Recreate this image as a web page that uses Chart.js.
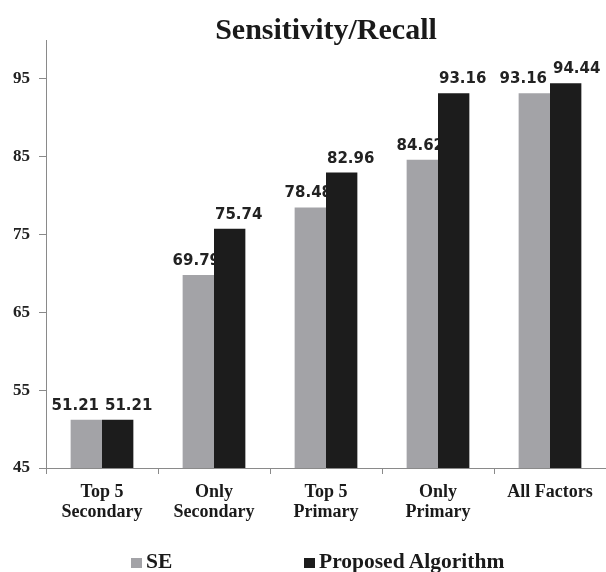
<!DOCTYPE html>
<html>
<head>
<meta charset="utf-8">
<script src="https://cdn.jsdelivr.net/npm/chart.js@4/dist/chart.umd.min.js"></script>
<style>
  body { margin: 0; background: #fff; }
  #wrap { position: relative; width: 606px; height: 572px; }
  #legend {
    position: absolute; left: 0; top: 549px; width: 606px; height: 24px;
    font: bold 21.5px 'Liberation Serif', serif; color: #1a1a1a;
  }
  #legend span.item { position: absolute; top: 0; line-height: 24px; white-space: nowrap; }
  #legend i { display: inline-block; width: 11px; height: 10px; margin-right: 4px; vertical-align: 0px; }
</style>
</head>
<body>
<div id="wrap">
  <canvas id="chart" width="606" height="572"></canvas>
  <div id="legend">
    <span class="item" style="left:131px"><i style="background:#a3a3a7"></i>SE</span>
    <span class="item" style="left:304px"><i style="background:#1c1c1c"></i>Proposed Algorithm</span>
  </div>
</div>
<script>
const categories = [
  ['Top 5', 'Secondary'],
  ['Only', 'Secondary'],
  ['Top 5', 'Primary'],
  ['Only', 'Primary'],
  'All Factors',
];
const seValues = [51.21, 69.79, 78.48, 84.62, 93.16];
const proposedValues = [51.21, 75.74, 82.96, 93.16, 94.44];
const yTicks = [45, 55, 65, 75, 85, 95];

const serif = "'Liberation Serif', 'Times New Roman', serif";

// value labels drawn before the bars so the neighbouring bar can cover them;
// the black-bar label is nudged right, and labels at the same height are pushed apart
const valueLabels = {
  id: 'valueLabels',
  beforeDatasetsDraw(chart) {
    const ctx = chart.ctx;
    ctx.save();
    ctx.font = "bold 15px 'DejaVu Sans', sans-serif";
    ctx.fillStyle = '#222';
    ctx.textAlign = 'center';
    ctx.textBaseline = 'alphabetic';
    const a = chart.getDatasetMeta(0).data;
    const b = chart.getDatasetMeta(1).data;
    a.forEach((barA, j) => {
      const barB = b[j];
      const txtA = seValues[j].toFixed(2);
      const txtB = proposedValues[j].toFixed(2);
      let xA = barA.x - 2;
      let xB = barB.x + 9;
      const w = ctx.measureText(txtA).width;
      if (Math.abs(barA.y - barB.y) < 14) {
        const need = w + 6 - (barB.x - barA.x);
        if (need > 0) {
          xA = barA.x - need / 2;
          xB = barB.x + need / 2;
        }
      }
      ctx.fillText(txtA, xA, barA.y - 10);
      ctx.fillText(txtB, xB, barB.y - 10);
    });
    ctx.restore();
  },
};

new Chart(document.getElementById('chart'), {
  type: 'bar',
  data: {
    labels: categories,
    datasets: [
      {
        label: 'SE',
        data: seValues,
        backgroundColor: '#a3a3a7',
        categoryPercentage: 0.56,
        barPercentage: 1,
      },
      {
        label: 'Proposed Algorithm',
        data: proposedValues,
        backgroundColor: '#1c1c1c',
        categoryPercentage: 0.56,
        barPercentage: 1,
      },
    ],
  },
  options: {
    responsive: false,
    animation: false,
    layout: { padding: 0 },
    scales: {
      x: {
        border: { color: '#8a8a8a', width: 1 },
        grid: { drawOnChartArea: false, tickLength: 6, color: '#8a8a8a', offset: true },
        ticks: {
          padding: 8,
          color: '#1a1a1a',
          maxRotation: 0,
          font: { family: serif, size: 18, weight: 'bold', lineHeight: 1.11 },
        },
        afterFit: (scale) => { scale.height = 104; },
      },
      y: {
        min: 45,
        max: 100,
        border: { color: '#8a8a8a', width: 1 },
        grid: { drawOnChartArea: false, tickLength: 7, color: '#8a8a8a' },
        afterBuildTicks: (scale) => { scale.ticks = yTicks.map((v) => ({ value: v })); },
        ticks: {
          padding: 9,
          color: '#222',
          font: { family: serif, size: 17, weight: 'bold' },
        },
        afterFit: (scale) => { scale.width = 46; },
      },
    },
    plugins: {
      legend: { display: false },
      tooltip: { enabled: false },
      title: {
        display: true,
        text: 'Sensitivity/Recall',
        fullSize: false,
        color: '#1a1a1a',
        font: { family: serif, size: 30, weight: 'bold', lineHeight: 0.6 },
        padding: { top: 22, bottom: 0 },
      },
    },
  },
  plugins: [valueLabels],
});
</script>
</body>
</html>
